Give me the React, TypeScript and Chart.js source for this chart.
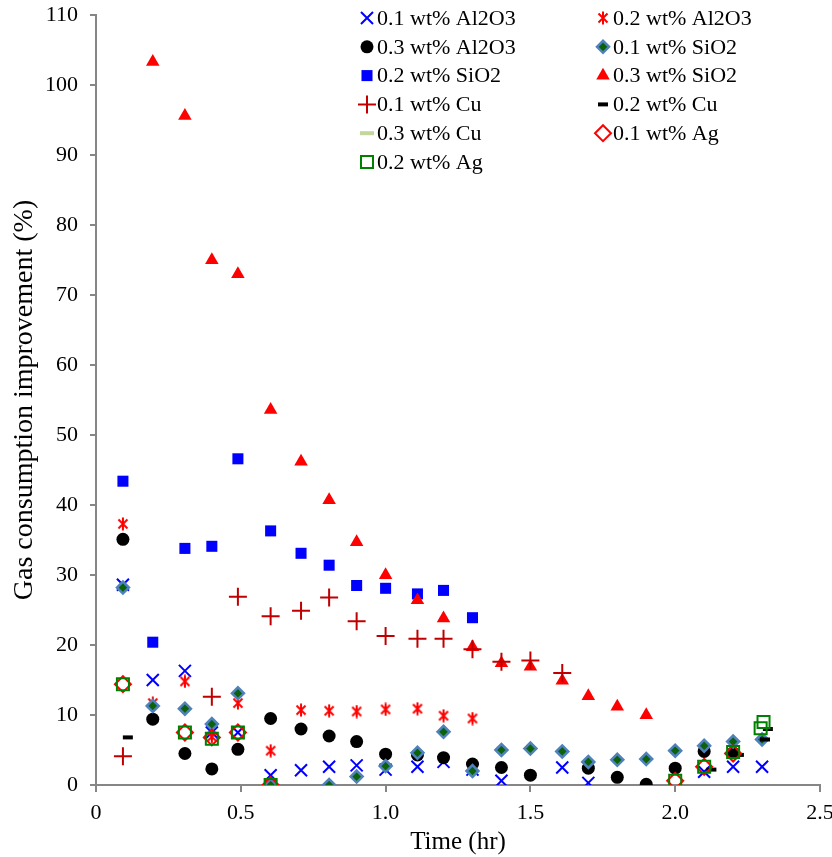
import { useEffect, useRef } from "react";
import { Chart, registerables, ChartConfiguration, Plugin } from "chart.js";
import { drawPoint } from "chart.js/helpers";

Chart.register(...registerables);

const FONT = "'Liberation Serif', 'Times New Roman', serif";

// sample times (hr), shared by most series
const timeHr = [
  0.093, 0.196, 0.307, 0.4, 0.49, 0.603, 0.708, 0.805, 0.9, 1.0, 1.11, 1.2,
  1.3, 1.4, 1.5, 1.61, 1.7, 1.8, 1.9, 2.0, 2.1, 2.2, 2.3,
];

// improvement (%) per series, null where no point was drawn
const al2o3_01 = [28.6, 15.0, 16.3, 7.5, 7.5, 1.4, 2.1, 2.6, 2.8, 2.2, 2.6, 3.3, 2.2, 0.6, null, 2.5, 0.3, null, null, null, 1.9, 2.6, 2.6];
const al2o3_02 = [37.3, 11.7, 14.8, 6.9, 11.7, 4.9, 10.7, 10.6, 10.5, 10.8, 10.9, 9.9, 9.5, null, null, null, null, null, null, null, null, null, null];
const al2o3_03 = [35.1, 9.4, 4.5, 2.3, 5.1, 9.5, 8.0, 7.0, 6.2, 4.4, 4.3, 3.9, 3.0, 2.5, 1.4, null, 2.4, 1.1, 0.1, 2.4, 4.8, 4.6, null];
const sio2_01 = [28.2, 11.3, 10.9, 8.7, 13.1, 0.0, null, 0.0, 1.2, 2.7, 4.6, 7.6, 2.0, 5.0, 5.2, 4.8, 3.3, 3.6, 3.7, 4.9, 5.6, 6.2, 6.5];
const sio2_02 = [43.4, 20.4, 33.8, 34.1, 46.6, 36.3, 33.1, 31.4, 28.5, 28.1, 27.3, 27.8, 23.9, null, null, null, null, null, null, null, null, null, null];
const sio2_03 = [null, 103.3, 95.6, 75.0, 73.0, 53.6, 46.2, 40.7, 34.7, 30.0, 26.4, 23.8, 19.7, 17.4, 16.9, 14.9, 12.7, 11.2, 10.0, null, null, null, null];
const cu_01 = [4.1, null, null, 12.6, 26.9, 24.1, 24.9, 26.8, 23.4, 21.3, 20.9, 20.9, 19.4, 17.6, 17.8, 16.0, null, null, null, null, null, null, null];
const ag_01 = [14.4, null, 7.5, 6.8, 7.5, 0.0, null, null, null, null, null, null, null, null, null, null, null, null, null, 0.6, 2.6, 4.5, null];

// series with their own time points
const cu_02_time = [0.11, 2.125, 2.22, 2.31, 2.32];
const cu_02 = [6.8, 2.2, 4.3, 6.5, 8.0];
const cu_03_time: number[] = [];
const cu_03: number[] = [];
const ag_02_time = [0.093, 0.307, 0.4, 0.49, 0.603, 2.0, 2.1, 2.2, 2.295, 2.305];
const ag_02 = [14.4, 7.5, 6.6, 7.5, 0.0, 0.6, 2.6, 4.7, 8.1, 9.0];

function makeAsterisk(color: string) {
  const c = document.createElement("canvas");
  c.width = 14;
  c.height = 14;
  const g = c.getContext("2d")!;
  g.strokeStyle = color;
  g.lineWidth = 2;
  g.beginPath();
  g.moveTo(2.5, 2.5);
  g.lineTo(11.5, 11.5);
  g.moveTo(11.5, 2.5);
  g.lineTo(2.5, 11.5);
  g.moveTo(7, 0.5);
  g.lineTo(7, 13.5);
  g.stroke();
  return c;
}

type Series = {
  label: string;
  x: number[];
  y: (number | null)[];
  pointStyle: any;
  radius: number;
  fill: string;
  border: string;
  bw: number;
};

function buildSeries(): Series[] {
  const clear = "rgba(0,0,0,0)";
  return [
    { label: "0.1 wt% Al2O3", x: timeHr, y: al2o3_01, pointStyle: "crossRot", radius: 8.5, fill: "#0000FF", border: "#0000FF", bw: 2 },
    { label: "0.2 wt% Al2O3", x: timeHr, y: al2o3_02, pointStyle: makeAsterisk("#FF0000"), radius: 7, fill: "#FF0000", border: "#FF0000", bw: 2 },
    { label: "0.3 wt% Al2O3", x: timeHr, y: al2o3_03, pointStyle: "circle", radius: 6.5, fill: "#000000", border: "#000000", bw: 0 },
    { label: "0.1 wt% SiO2", x: timeHr, y: sio2_01, pointStyle: "rectRot", radius: 6, fill: "#0B620B", border: "#4F81BD", bw: 2.5 },
    { label: "0.2 wt% SiO2", x: timeHr, y: sio2_02, pointStyle: "rect", radius: 7.8, fill: "#0000FF", border: "#0000FF", bw: 0 },
    { label: "0.3 wt% SiO2", x: timeHr, y: sio2_03, pointStyle: "triangle", radius: 7.8, fill: "#FF0000", border: "#FF0000", bw: 0 },
    { label: "0.1 wt% Cu", x: timeHr, y: cu_01, pointStyle: "cross", radius: 9, fill: "#C00000", border: "#C00000", bw: 2 },
    { label: "0.2 wt% Cu", x: cu_02_time, y: cu_02, pointStyle: "line", radius: 5, fill: "#000000", border: "#000000", bw: 4 },
    { label: "0.3 wt% Cu", x: cu_03_time, y: cu_03, pointStyle: "line", radius: 7, fill: "#C3D69B", border: "#C3D69B", bw: 4 },
    { label: "0.1 wt% Ag", x: timeHr, y: ag_01, pointStyle: "rectRot", radius: 8, fill: clear, border: "#FF0000", bw: 2 },
    { label: "0.2 wt% Ag", x: ag_02_time, y: ag_02, pointStyle: "rect", radius: 8.5, fill: clear, border: "#008000", bw: 2 },
  ];
}

// two-column legend in the top right, filled row by row
function gridLegend(series: Series[]): Plugin {
  return {
    id: "gridLegend",
    afterDraw(chart) {
      const ctx = chart.ctx;
      ctx.save();
      series.forEach((s, i) => {
        const mx = i % 2 ? 603 : 367;
        const y = 18 + Math.floor(i / 2) * 28.8;
        ctx.save();
        ctx.fillStyle = s.fill;
        ctx.strokeStyle = s.border;
        ctx.lineWidth = s.bw;
        drawPoint(ctx, { pointStyle: s.pointStyle, radius: s.radius, rotation: 0, borderWidth: s.bw } as any, mx, y);
        ctx.restore();
        ctx.font = `22px ${FONT}`;
        ctx.textBaseline = "middle";
        ctx.textAlign = "left";
        ctx.fillStyle = "#000";
        ctx.fillText(s.label, mx + 10, y + 1);
      });
      ctx.restore();
    },
  };
}

export default function App() {
  const canvasRef = useRef<HTMLCanvasElement | null>(null);

  useEffect(() => {
    if (!canvasRef.current) return;
    const series = buildSeries();
    const n = series.length;

    const config: ChartConfiguration<"scatter"> = {
      type: "scatter",
      data: {
        datasets: series.map((s, i) => ({
          label: s.label,
          data: s.x
            .map((x, j) => (s.y[j] == null ? null : { x, y: s.y[j] as number }))
            .filter((p): p is { x: number; y: number } => p !== null),
          pointStyle: s.pointStyle,
          pointRadius: s.radius,
          pointHoverRadius: s.radius,
          pointBackgroundColor: s.fill,
          pointBorderColor: s.border,
          pointBorderWidth: s.bw,
          showLine: false,
          order: n - i, // later series on top, like the original
        })),
      },
      options: {
        responsive: true,
        maintainAspectRatio: false,
        animation: false,
        devicePixelRatio: 1,
        layout: { padding: { top: 15, right: 12, left: 0, bottom: 0 } },
        plugins: { legend: { display: false }, tooltip: { enabled: false } },
        scales: {
          x: {
            type: "linear",
            min: 0,
            max: 2.5,
            ticks: { stepSize: 0.5, color: "#000", font: { family: FONT, size: 22 }, padding: 8 },
            grid: { drawOnChartArea: false, tickLength: 7, color: "#868686", lineWidth: 2 },
            border: { color: "#868686", width: 2 },
            title: { display: true, text: "Time (hr)", color: "#000", font: { family: FONT, size: 25 }, padding: { top: 0, bottom: 0 } },
            afterFit(scale) {
              scale.height = 72;
              scale.paddingLeft = 0;
              scale.paddingRight = 0;
            },
          },
          y: {
            type: "linear",
            min: 0,
            max: 110,
            ticks: { stepSize: 10, color: "#000", font: { family: FONT, size: 22 }, padding: 12 },
            grid: { drawOnChartArea: false, tickLength: 6, color: "#868686", lineWidth: 2 },
            border: { color: "#868686", width: 2 },
            title: { display: true, text: "Gas consumption improvement (%)", color: "#000", font: { family: FONT, size: 28 }, padding: { top: 8, bottom: 0 } },
            afterFit(scale) {
              scale.width = 96;
              scale.paddingTop = 0;
              scale.paddingBottom = 0;
            },
          },
        },
      },
      plugins: [gridLegend(series)],
    };

    const chart = new Chart(canvasRef.current, config);
    return () => chart.destroy();
  }, []);

  return (
    <div style={{ position: "absolute", left: 0, top: 0, width: 832, height: 857, background: "#fff" }}>
      <canvas ref={canvasRef}></canvas>
    </div>
  );
}
